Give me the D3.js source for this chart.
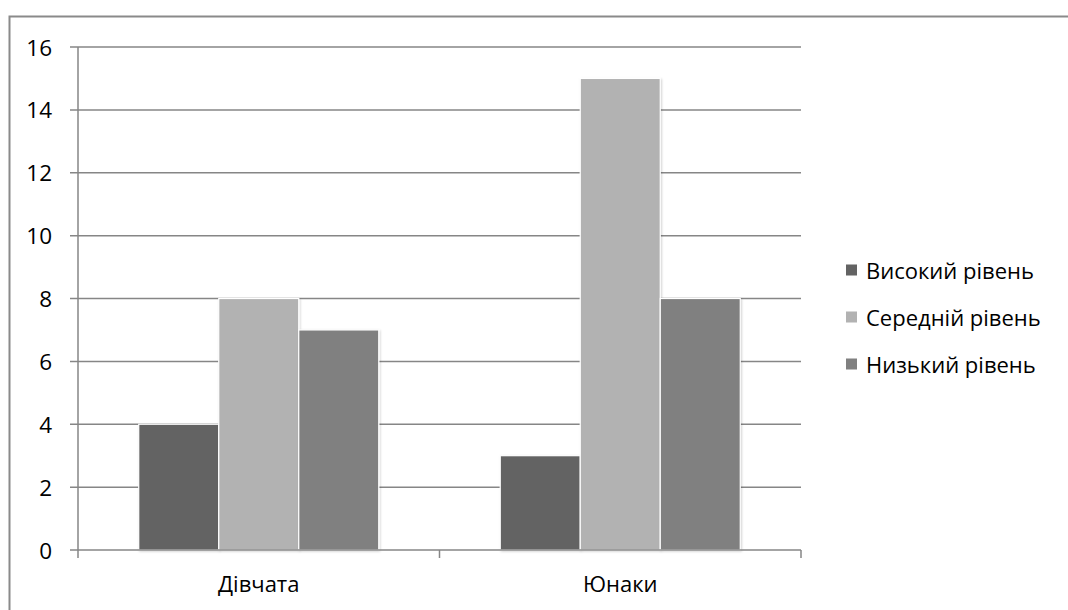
<!DOCTYPE html>
<html>
<head>
<meta charset="utf-8">
<script src="https://cdn.jsdelivr.net/npm/d3@7"></script>
<style>
  html, body { margin: 0; padding: 0; background: #fff; }
  svg { display: block; }
  text { font-family: "Open Sans", "Noto Sans", sans-serif; fill: #000; }
</style>
</head>
<body>
<svg id="chart" width="1068" height="610"></svg>
<script>
// Data
const categories = ["Дівчата", "Юнаки"];
const seriesNames = ["Високий рівень", "Середній рівень", "Низький рівень"];
const seriesColors = ["#636363", "#b2b2b2", "#808080"];
const highLevel = [4, 3];
const midLevel = [8, 15];
const lowLevel = [7, 8];
const yTicks = [0, 2, 4, 6, 8, 10, 12, 14, 16];

const seriesValues = [highLevel, midLevel, lowLevel];

const svg = d3.select("#chart");
const W = 1068, H = 610;
const plot = { left: 78, right: 801, top: 47, bottom: 550 };

// Frame around the chart area
svg.append("rect")
  .attr("x", 9.5).attr("y", 16.5)
  .attr("width", W + 20).attr("height", H + 20)
  .attr("fill", "none").attr("stroke", "#8a8a8a").attr("stroke-width", 2);

const defs = svg.append("defs");
const shadow = defs.append("filter").attr("id", "barShadow")
  .attr("x", "-10%").attr("y", "-10%").attr("width", "130%").attr("height", "130%");
shadow.append("feDropShadow")
  .attr("dx", 1).attr("dy", 1).attr("stdDeviation", 1.2)
  .attr("flood-color", "#000").attr("flood-opacity", 0.18);

const y = d3.scaleLinear().domain([0, 16]).range([plot.bottom, plot.top]);
const x0 = d3.scaleBand().domain(categories).range([plot.left, plot.right]).padding(0);
const bw = x0.bandwidth();
const x1 = d3.scaleBand().domain(seriesNames).range([bw * 0.168, bw * 0.832]).padding(0);

// Horizontal gridlines
svg.append("g")
  .selectAll("line")
  .data(yTicks.filter(t => t > 0))
  .join("line")
  .attr("x1", plot.left - 8).attr("x2", plot.right)
  .attr("y1", d => y(d)).attr("y2", d => y(d))
  .attr("stroke", "#868686").attr("stroke-width", 1.5);

// Y axis line and labels
svg.append("line")
  .attr("x1", plot.left).attr("x2", plot.left)
  .attr("y1", plot.top).attr("y2", plot.bottom)
  .attr("stroke", "#868686").attr("stroke-width", 1.5);

svg.append("g")
  .selectAll("text")
  .data(yTicks)
  .join("text")
  .attr("x", 52).attr("y", d => y(d))
  .attr("text-anchor", "end")
  .attr("dominant-baseline", "central")
  .attr("font-size", 22.5)
  .text(d => d);

// Bars
const groups = svg.append("g")
  .selectAll("g")
  .data(categories)
  .join("g")
  .attr("transform", d => `translate(${x0(d)},0)`);

groups.selectAll("rect")
  .data((d, i) => seriesNames.map((s, j) => ({ s, v: seriesValues[j][i], c: seriesColors[j] })))
  .join("rect")
  .attr("x", d => x1(d.s))
  .attr("y", d => y(d.v))
  .attr("width", x1.bandwidth())
  .attr("height", d => y(0) - y(d.v))
  .attr("fill", d => d.c)
  .attr("stroke", "#fff").attr("stroke-width", 1.2)
  .attr("filter", "url(#barShadow)");

// X axis line with category ticks
svg.append("line")
  .attr("x1", plot.left - 8).attr("x2", plot.right)
  .attr("y1", plot.bottom).attr("y2", plot.bottom)
  .attr("stroke", "#868686").attr("stroke-width", 1.5);

const xTickPos = categories.map(c => x0(c)).concat([plot.right]);
svg.append("g")
  .selectAll("line")
  .data(xTickPos)
  .join("line")
  .attr("x1", d => d).attr("x2", d => d)
  .attr("y1", plot.bottom).attr("y2", plot.bottom + 8)
  .attr("stroke", "#868686").attr("stroke-width", 1.5);

svg.append("g")
  .selectAll("text")
  .data(categories)
  .join("text")
  .attr("x", d => x0(d) + bw / 2)
  .attr("y", 583)
  .attr("text-anchor", "middle")
  .attr("dominant-baseline", "central")
  .attr("font-size", 22)
  .text(d => d);

// Legend
const legend = svg.append("g")
  .selectAll("g")
  .data(seriesNames)
  .join("g")
  .attr("transform", (d, i) => `translate(846,${270 + i * 47})`);

legend.append("rect")
  .attr("x", 0).attr("y", -5.5)
  .attr("width", 11).attr("height", 11)
  .attr("fill", (d, i) => seriesColors[i]);

legend.append("text")
  .attr("x", 20).attr("y", 0)
  .attr("dominant-baseline", "central")
  .attr("font-size", 22)
  .text(d => d);
</script>
</body>
</html>
